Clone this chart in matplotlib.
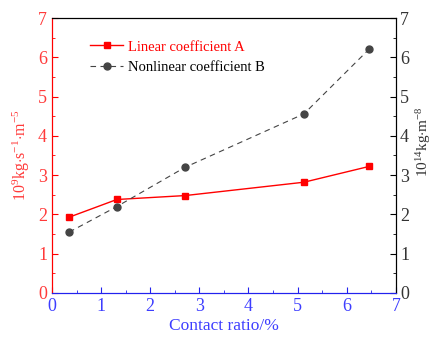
import matplotlib
matplotlib.use("Agg")
import matplotlib.pyplot as plt
from matplotlib.ticker import MultipleLocator

plt.rcParams['font.family'] = ['Liberation Serif', 'DejaVu Serif']
plt.rcParams['mathtext.fontset'] = 'custom'
plt.rcParams['mathtext.rm'] = 'Liberation Serif'
plt.rcParams['mathtext.it'] = 'Liberation Serif:italic'

contact_ratio = [0.35, 1.32, 2.71, 5.13, 6.45]
linear_a = [1.93, 2.38, 2.48, 2.82, 3.22]
nonlinear_b = [1.55, 2.20, 3.20, 4.56, 6.20]

red = '#ff0000'
red_text = '#ff3a3a'
blue = '#2222ee'
blue_text = '#3d3dff'
dark = '#444444'

fig = plt.figure(figsize=(4.35, 3.43), dpi=100)
ax = fig.add_axes([0.1195, 0.1458, 0.7905, 0.8017])
ax2 = ax.twinx()

la, = ax.plot(contact_ratio, linear_a, color=red, marker='s', markersize=5, lw=1.0,
              label='Linear coefficient A')
lb, = ax2.plot(contact_ratio, nonlinear_b, color=dark, marker='o', markersize=5, lw=0.8,
               ls=(0, (5, 4)), label='Nonlinear coefficient B')

for a in (ax, ax2):
    a.set_xlim(0, 7)
    a.set_ylim(0, 7)
    a.xaxis.set_major_locator(MultipleLocator(1))
    a.xaxis.set_minor_locator(MultipleLocator(0.5))
    a.yaxis.set_major_locator(MultipleLocator(1))
    a.yaxis.set_minor_locator(MultipleLocator(0.5))

ax.tick_params(axis='both', which='both', direction='in', labelsize=13)
ax.tick_params(which='major', length=4)
ax.tick_params(which='minor', length=2)
ax.tick_params(axis='y', which='both', colors=red, labelcolor=red_text)
ax.tick_params(axis='x', which='both', colors=blue, labelcolor=blue_text)
ax2.tick_params(axis='y', which='both', direction='in', labelsize=13, colors='black',
                labelcolor='#333333', pad=3)
ax2.tick_params(which='major', length=4)
ax2.tick_params(which='minor', length=2)

ax.spines['left'].set_color(red)
ax.spines['bottom'].set_color(blue)
ax2.spines['left'].set_color(red)
ax2.spines['bottom'].set_color(blue)
ax2.spines['right'].set_color('black')
ax2.spines['top'].set_color('black')

ax.set_xlabel('Contact ratio/%', color=blue_text, fontsize=12.5, labelpad=2)
ax.set_ylabel(r'10$^{9}$kg$\cdot$s$^{-1}$$\cdot$m$^{-5}$', color=red_text, fontsize=11.5,
              labelpad=4)
ax2.set_ylabel(r'10$^{14}$kg$\cdot$m$^{-8}$', color='#333333', fontsize=11, labelpad=2)
ax2.yaxis.set_label_coords(1.052, 0.55)

leg = ax.legend(handles=[la, lb], loc='upper left', bbox_to_anchor=(0.095, 0.94),
                frameon=False, fontsize=10.5, handlelength=2.2, handletextpad=0.4,
                labelspacing=0.5, borderaxespad=0)
leg.get_texts()[0].set_color(red)
leg.get_texts()[1].set_color('black')

fig.savefig('out.png', dpi=100)
